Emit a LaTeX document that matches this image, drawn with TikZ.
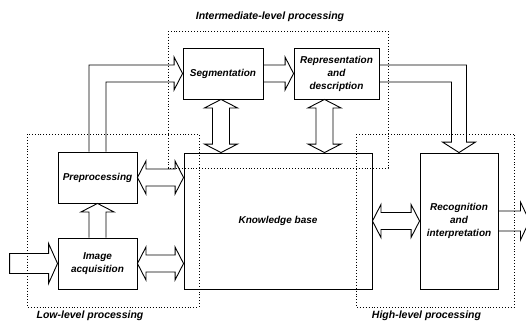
\documentclass[tikz,border=0pt]{standalone}
\usepackage{fontspec}
\setmainfont{Liberation Sans}
\usetikzlibrary{calc}
\newcommand\arS{8.5}
\newcommand\arH{16.5}
\newcommand\arL{8.5}
% horizontal hollow double arrow between two named points (left, right)
\newcommand\hdarr[2]{\draw[arrline] (#1) -- ($(#1)+(\arL,-\arH)$) -- ($(#1)+(\arL,-\arS)$) -- ($(#2)+(-\arL,-\arS)$) -- ($(#2)+(-\arL,-\arH)$) -- (#2) -- ($(#2)+(-\arL,\arH)$) -- ($(#2)+(-\arL,\arS)$) -- ($(#1)+(\arL,\arS)$) -- ($(#1)+(\arL,\arH)$) -- cycle;}
% vertical hollow double arrow between two named points (top, bottom)
\newcommand\vdarr[2]{\draw[arrline] (#1) -- ($(#1)+(\arH,\arL)$) -- ($(#1)+(\arS,\arL)$) -- ($(#2)+(\arS,-\arL)$) -- ($(#2)+(\arH,-\arL)$) -- (#2) -- ($(#2)+(-\arH,-\arL)$) -- ($(#2)+(-\arS,-\arL)$) -- ($(#1)+(-\arS,\arL)$) -- ($(#1)+(-\arH,\arL)$) -- cycle;}
\begin{document}
\begin{tikzpicture}[x=1pt,y=-1pt,
  lbl/.style={font=\fontsize{10}{13}\selectfont\bfseries\itshape, align=center},
  rlbl/.style={font=\fontsize{10.5}{13}\selectfont\bfseries\itshape},
  procbox/.style={draw, line width=0.9pt, inner sep=0pt, lbl},
  arrline/.style={draw, line width=0.9pt, line join=miter},
  region/.style={draw, dotted, line width=0.9pt}]
\useasboundingbox (0,0) rectangle (526,324);
\clip (0,0) rectangle (526,324);

% boxes
\node[procbox, minimum width=80pt, minimum height=51pt] (seg) at (223,73.5) {Segmentation};
\node[procbox, minimum width=85pt, minimum height=51pt] (rep) at (336.5,73.5) {Representation\\and\\description};
\node[procbox, minimum width=79pt, minimum height=51pt] (pre) at (97.5,177.5) {Preprocessing};
\node[procbox, minimum width=79pt, minimum height=51pt] (img) at (97.5,263.5) {Image\\acquisition};
\node[procbox, minimum width=188pt, minimum height=136pt] (kb) at (278,221) {Knowledge base};
\node[procbox, minimum width=78pt, minimum height=136pt] (rec) at (459,221) {Recognition\\and\\interpretation};

% region labels
\node[rlbl] (tmid) at (270,17) {Intermediate-level processing};
\node[rlbl] (tlow) at (90,316) {Low-level processing};
\node[rlbl] (thigh) at (426.5,316) {High-level processing};

% auxiliary points
\coordinate (inp) at ($(img.west)+(-48,0)$);
\coordinate (outp) at ($(rec.east)+(31,0)$);
\coordinate (s1) at ($(seg.south)+(-2,0)$);
\coordinate (s2) at (s1 |- kb.north);
\coordinate (r1) at ($(rep.south)+(-12,0)$);
\coordinate (r2) at (r1 |- kb.north);

% input arrow
\draw[arrline] (inp) ++(0,-10) -- ($(img.west)+(-9,-10)$) -- ($(img.west)+(-9,-20)$) -- (img.west) -- ($(img.west)+(-9,20)$) -- ($(img.west)+(-9,10)$) -- ($(inp)+(0,10)$) -- cycle;

% image acquisition -> preprocessing
\draw[arrline] ($(img.north)+(-\arS,0)$) -- ($(pre.south)+(-\arS,\arL)$) -- ($(pre.south)+(-\arH,\arL)$) -- (pre.south) -- ($(pre.south)+(\arH,\arL)$) -- ($(pre.south)+(\arS,\arL)$) -- ($(img.north)+(\arS,0)$);

% preprocessing -> segmentation
\draw[arrline] ($(pre.north)+(-\arS,0)$) |- ($(seg.west)+(-\arL,-\arS)$) -- ($(seg.west)+(-\arL,-\arH)$) -- (seg.west) -- ($(seg.west)+(-\arL,\arH)$) -- ($(seg.west)+(-\arL,\arS)$) -| ($(pre.north)+(\arS,0)$);

% segmentation -> representation
\draw[arrline] ($(seg.east)+(0,-\arS)$) -- ($(rep.west)+(-\arL,-\arS)$) -- ($(rep.west)+(-\arL,-\arH)$) -- (rep.west) -- ($(rep.west)+(-\arL,\arH)$) -- ($(rep.west)+(-\arL,\arS)$) -- ($(seg.east)+(0,\arS)$);

% representation -> recognition
\draw[arrline] ($(rep.east)+(0,-\arS)$) -| ($(rec.north)+(7.5,-\arL-2)$) -- ($(rec.north)+(\arH,-\arL-2)$) -- (rec.north) -- ($(rec.north)+(-\arH,-\arL-2)$) -- ($(rec.north)+(-7.5,-\arL-2)$) |- ($(rep.east)+(0,\arS)$);

% double arrows
\hdarr{pre.east}{pre.east -| kb.west}
\hdarr{img.east}{img.east -| kb.west}
\hdarr{kb.east}{kb.east -| rec.west}
\vdarr{s1}{s2}
\vdarr{r1}{r2}

% output arrow
\draw[arrline] ($(rec.east)+(0,-10)$) -- ($(outp)+(-9,-10)$) -- ($(outp)+(-9,-19)$) -- (outp) -- ($(outp)+(-9,19)$) -- ($(outp)+(-9,10)$) -- ($(rec.east)+(0,10)$);

% processing regions
\draw[region] (168,31) rectangle (388,168);
\draw[region] (27,134) rectangle (199,307);
\draw[region] (356,134) rectangle (514,307);
\end{tikzpicture}
\end{document}
